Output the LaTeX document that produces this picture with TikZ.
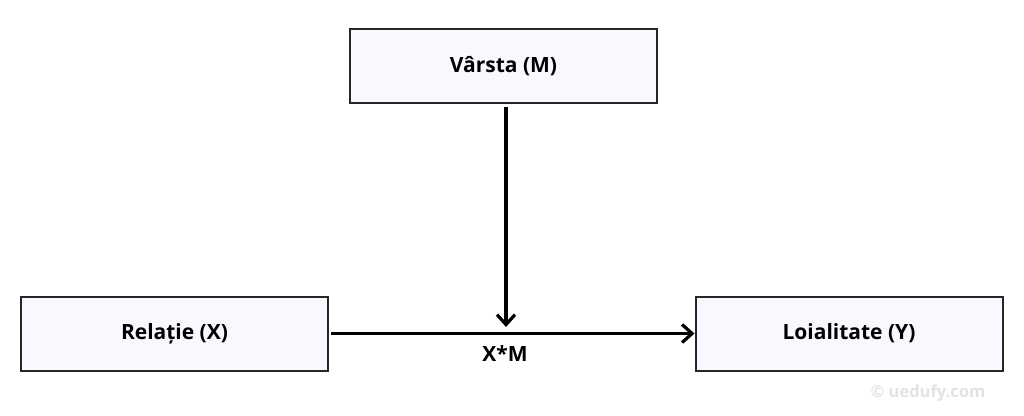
\documentclass[tikz,border=0pt]{standalone}
\usepackage{fontspec}
\setmainfont{Open Sans}
\usetikzlibrary{arrows.meta}
\definecolor{boxfill}{HTML}{F8F9FE}
\definecolor{wm}{HTML}{E2E2E2}
\begin{document}
\begin{tikzpicture}[x=1pt,y=-1pt,
  varbox/.style={draw=black!85, line width=2pt, fill=boxfill, minimum width=307pt, minimum height=74pt, font=\bfseries\fontsize{21}{25}\selectfont, inner sep=0pt},
  conn/.style={line width=3.2pt, -{Straight Barb[length=10pt,width=18pt,line width=3.2pt]}},
  lbl/.style={font=\bfseries\fontsize{21}{25}\selectfont, inner sep=0pt}]
\useasboundingbox (0,0) rectangle (1024,415);
\node[varbox] (m) at (503.5,66) {Vârsta (M)};
\node[varbox] (x) at (174.5,333.5) {Relație (X)};
\node[varbox] (y) at (849,333.5) {Loialitate (Y)};
\coordinate (j) at (506,327);
\draw[conn] (x.east) ++(2,0) coordinate (xs) -- (y.west);
\draw[conn] (m.south -| j) ++(0,3) -- (j);
\node[lbl] (xm) at (505,354) {X*M};
\node[font=\bfseries\fontsize{16.5}{19}\selectfont, text=wm, inner sep=0pt] (w) at (928,393) {© uedufy.com};
\end{tikzpicture}
\end{document}
